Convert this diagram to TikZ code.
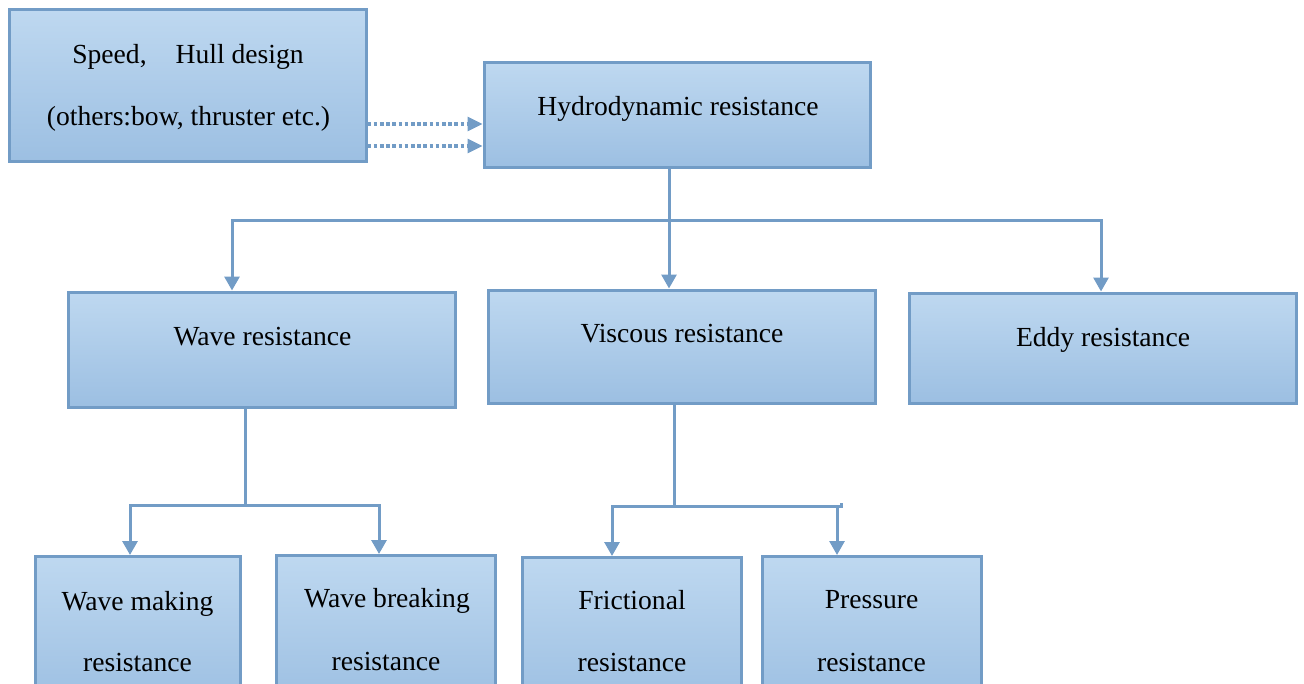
\documentclass[tikz,border=0pt]{standalone}
\usepackage{fontspec}
\setmainfont{Liberation Serif}
\usetikzlibrary{arrows.meta}
\definecolor{edge}{RGB}{114,156,198}
\definecolor{filltop}{RGB}{190,216,240}
\definecolor{fillbot}{RGB}{156,191,226}
\tikzset{
  box/.style={draw=edge, line width=1.5pt, top color=filltop, bottom color=fillbot, inner sep=0pt},
  txt/.style={anchor=base, inner sep=0pt, font=\fontsize{13.8pt}{16pt}\selectfont},
  conn/.style={draw=edge, line width=1.5pt},
  arr/.style={conn, -{Triangle[length=7pt,width=7.5pt]}},
  dotarr/.style={draw=edge, line width=1.6pt, dash pattern=on 1.8pt off 1.3pt, -{Triangle[length=7.5pt,width=7pt]}}
}
\begin{document}
\begin{tikzpicture}[x=0.5pt,y=-0.5pt]
\useasboundingbox (0,0) rectangle (1304,684);
\clip (0,0) rectangle (1304,684);
% boxes
\node[box, minimum width=178.5pt, minimum height=76pt] (src) at (187.5,86) {};
\node[box, minimum width=193pt, minimum height=52.5pt] (hydro) at (677,115.5) {};
\node[box, minimum width=193.5pt, minimum height=57.5pt] (wave) at (261.5,349.5) {};
\node[box, minimum width=193.5pt, minimum height=56.5pt] (viscous) at (681.5,346.5) {};
\node[box, minimum width=193.5pt, minimum height=55pt] (eddy) at (1102.5,348) {};
\node[box, minimum width=102.5pt, minimum height=75pt, anchor=north] (wmake) at (137.5,555) {};
\node[box, minimum width=109.5pt, minimum height=75pt, anchor=north] (wbreak) at (385.5,554) {};
\node[box, minimum width=109.5pt, minimum height=75pt, anchor=north] (fric) at (631.5,556) {};
\node[box, minimum width=109.5pt, minimum height=75pt, anchor=north] (press) at (871.5,555) {};
% texts
\node[txt] (t1) at (188,64) {Speed,\hspace{14.5pt}Hull design};
\node[txt] (t2) at (188.5,126) {(others:bow, thruster etc.)};
\node[txt] (t3) at (678,116) {Hydrodynamic resistance};
\node[txt] (t4) at (262.5,345) {Wave resistance};
\node[txt] (t5) at (682,342) {Viscous resistance};
\node[txt] (t6) at (1103,346) {Eddy resistance};
\node[txt] (t7) at (137.5,610) {Wave making};
\node[txt] (t8) at (137.5,671) {resistance};
\node[txt] (t9) at (387,607) {Wave breaking};
\node[txt] (t10) at (386,670) {resistance};
\node[txt] (t11) at (632,609) {Frictional};
\node[txt] (t12) at (632,671) {resistance};
\node[txt] (t13) at (871.5,608) {Pressure};
\node[txt] (t14) at (871.5,671) {resistance};
% coordinates
\coordinate (d1) at (0,124);
\coordinate (d2) at (0,146);
\coordinate (hx) at (669,220);
\coordinate (wx) at (232,220);
\coordinate (ex) at (1101,220);
\coordinate (wb) at (245,505);
\coordinate (wl) at (130,505);
\coordinate (wr) at (379,505);
\coordinate (vb) at (674,506);
\coordinate (vl) at (612,506);
\coordinate (vr) at (837,506);
% dotted arrows
\draw[dotarr] (src.east |- d1) -- (hydro.west |- d1);
\draw[dotarr] (src.east |- d2) -- (hydro.west |- d2);
% hydro tree
\draw[arr] (hydro.south -| hx) -- (viscous.north -| hx);
\draw[arr] (hx) -| (wave.north -| wx);
\draw[arr] (hx) -| (eddy.north -| ex);
% wave tree
\draw[conn] (wave.south -| wb) -- (wb);
\draw[arr] (wb) -| (wmake.north -| wl);
\draw[arr] (wb) -| (wbreak.north -| wr);
% viscous tree
\draw[conn] (viscous.south -| vb) -- (vb);
\draw[arr] (vb) -| (fric.north -| vl);
\draw[arr] (vb) -| (press.north -| vr);
\draw[conn] (vr) -- ++(4,0) -- ++(0,-3);
\end{tikzpicture}
\end{document}
